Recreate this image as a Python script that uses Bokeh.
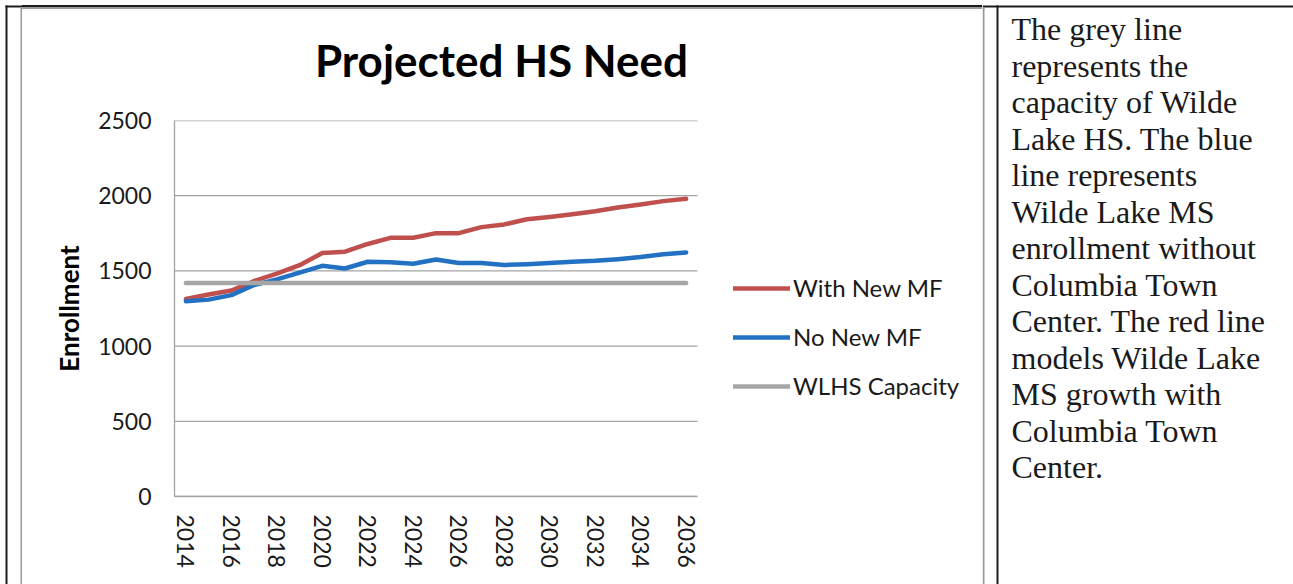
from bokeh.plotting import figure
from bokeh.models import Range1d, FixedTicker, Legend, LegendItem, Div
from bokeh.layouts import row, column
from bokeh.embed import file_html
from bokeh.resources import INLINE
from bokeh.core.properties import value

# ---------------- data ----------------
years = [2014, 2015, 2016, 2017, 2018, 2019, 2020, 2021, 2022, 2023, 2024, 2025,
         2026, 2027, 2028, 2029, 2030, 2031, 2032, 2033, 2034, 2035, 2036]
with_new_mf = [1314, 1343, 1370, 1433, 1482, 1538, 1619, 1628, 1679, 1720, 1720, 1751,
               1751, 1791, 1809, 1843, 1859, 1877, 1897, 1922, 1942, 1964, 1980]
no_new_mf = [1298, 1309, 1339, 1406, 1444, 1489, 1534, 1516, 1561, 1558, 1547, 1576,
             1552, 1552, 1540, 1545, 1552, 1561, 1567, 1578, 1592, 1610, 1623]
wlhs_capacity = [1420, 1420, 1420, 1420, 1420, 1420, 1420, 1420, 1420, 1420, 1420, 1420,
                 1420, 1420, 1420, 1420, 1420, 1420, 1420, 1420, 1420, 1420, 1420]
x_tick_years = [2014, 2016, 2018, 2020, 2022, 2024, 2026, 2028, 2030, 2032, 2034, 2036]
y_ticks = [0, 500, 1000, 1500, 2000, 2500]
series_labels = ["With New MF", "No New MF", "WLHS Capacity"]
series_colors = ["#C0504D", "#2271C3", "#A6A6A6"]
chart_title = "Projected HS Need"
y_label = "Enrollment"
note_lines = ["The grey line", "represents the", "capacity of Wilde", "Lake HS. The blue",
              "line represents", "Wilde Lake MS", "enrollment without", "Columbia Town",
              "Center. The red line", "models Wilde Lake", "MS growth with",
              "Columbia Town", "Center."]

DARK = "#1c1c1c"
FRAME_GREY = "#9a9a9a"
GRID = "#A3A3A3"
FONT = "Lato"
W_PAGE, H_PAGE = 1293, 584


def strip(width, height, xr, yr, **kw):
    f = figure(width=width, height=height, x_range=xr, y_range=yr, title=None,
               toolbar_location=None, output_backend="svg",
               x_axis_type=None, y_axis_type=None, **kw)
    f.grid.visible = False
    f.outline_line_color = None
    f.background_fill_color = "white"
    f.border_fill_color = "white"
    return f


# ---- left strip: outer table border + chart frame left edge ----
W_L = 22
left = strip(W_L, H_PAGE, Range1d(0, W_L), Range1d(H_PAGE, 0), min_border=0)
left.quad(left=[5, 5, 20, 20], right=[W_L, 7, 22, W_L], top=[5, 5, 7, 7],
          bottom=[7, H_PAGE, H_PAGE, 9],
          fill_color=[DARK, DARK, FRAME_GREY, FRAME_GREY], line_color=None)

# ---- chart column ----
W_C = 982 - W_L                 # chart cell from x=22 to x=982
H_LINES = 9
top_lines = Div(text="", width=W_C, height=H_LINES, margin=0,
                styles={"background": "linear-gradient(to bottom, #ffffff 0px, #ffffff 5px, "
                        + DARK + " 5px, " + DARK + " 7px, " + FRAME_GREY + " 7px, "
                        + FRAME_GREY + " 9px)"})

ML = 152                        # frame left (x=174 on page)
FRAME_W = W_C - ML
DATA_W = 523                    # pixel width of the data area (x 174..697)

H_TITLE = 91
title_strip = strip(W_C, H_TITLE, Range1d(0, FRAME_W), Range1d(H_TITLE, 0),
                    min_border_left=ML, min_border_right=0, min_border_top=0, min_border_bottom=0)
title_strip.text(x=[327], y=[50], text=[chart_title], text_font=value(FONT),
                 text_font_style="bold", text_font_size="44px", text_align="center",
                 text_baseline="alphabetic", text_color="#000000")

H_C = H_PAGE - H_LINES - H_TITLE
x_lo = years[0] - 0.5
x_hi = years[-1] + 0.5
px_per_year = DATA_W / (x_hi - x_lo)
p = figure(width=W_C, height=H_C, title=None,
           x_range=Range1d(x_lo, x_lo + FRAME_W / px_per_year), y_range=Range1d(0, 2500),
           toolbar_location=None, output_backend="svg",
           min_border_left=ML, min_border_right=0, min_border_top=20, min_border_bottom=88)
p.outline_line_color = None
p.background_fill_color = "white"
p.border_fill_color = "white"
p.grid.visible = False

# horizontal gridlines over the data area only
p.segment(x0=[x_lo] * len(y_ticks), x1=[x_hi] * len(y_ticks), y0=y_ticks, y1=y_ticks,
          line_color=GRID, line_width=1.3)

p.xaxis.ticker = FixedTicker(ticks=x_tick_years)
p.yaxis.ticker = FixedTicker(ticks=y_ticks)
p.xaxis.bounds = (x_lo, x_hi)
for ax in (p.xaxis, p.yaxis):
    ax.axis_line_color = GRID
    ax.axis_line_width = 1.3
    ax.major_tick_line_color = None
    ax.minor_tick_line_color = None
    ax.major_label_text_font = FONT
    ax.major_label_text_font_size = "23px"
    ax.major_label_text_color = "#1a1a1a"
p.xaxis.major_label_orientation = "vertical"
p.xaxis.major_label_standoff = 12
p.yaxis.major_label_standoff = 17
p.yaxis.axis_label = y_label
p.yaxis.axis_label_text_font = FONT
p.yaxis.axis_label_text_font_style = "bold"
p.yaxis.axis_label_text_font_size = "26px"
p.yaxis.axis_label_text_color = "#000000"
p.yaxis.axis_label_standoff = 10

renderers = []
for vals, col in zip([with_new_mf, no_new_mf, wlhs_capacity], series_colors):
    r = p.line(years, vals, line_color=col, line_width=4.5, line_cap="round", line_join="round")
    renderers.append(r)

legend = Legend(items=[LegendItem(label=lab, renderers=[r]) for lab, r in zip(series_labels, renderers)],
                location=(DATA_W + 36, 96), orientation="vertical", border_line_color=None,
                background_fill_alpha=0, padding=0, margin=0, spacing=20,
                glyph_width=57, glyph_height=20, label_height=20, label_standoff=3,
                label_text_font=FONT, label_text_font_size="24px", label_text_color="#1a1a1a")
p.add_layout(legend, "center")

chart_col = column(top_lines, title_strip, p)

# ---- right part: divider and note text ----
W_R = W_PAGE - W_L - W_C
right = strip(W_R, H_PAGE, Range1d(0, W_R), Range1d(H_PAGE, 0), min_border=0)
right.quad(left=[0, 0, 14, 0], right=[W_R, 2, 16, 2], top=[5, 7, 5, 7],
           bottom=[7, H_PAGE, H_PAGE, 9],
           fill_color=[DARK, FRAME_GREY, DARK, FRAME_GREY], line_color=None)
note_y = [28.5 + 36.5 * i for i in range(len(note_lines))]
right.text(x=[29] * len(note_lines), y=note_y, text=note_lines,
           text_font=value("Liberation Serif"), text_font_size="32px",
           text_baseline="alphabetic", text_align="left", text_color="#1a1a1a")

layout = row(left, chart_col, right)
open("out.html", "w").write(file_html(layout, INLINE))
